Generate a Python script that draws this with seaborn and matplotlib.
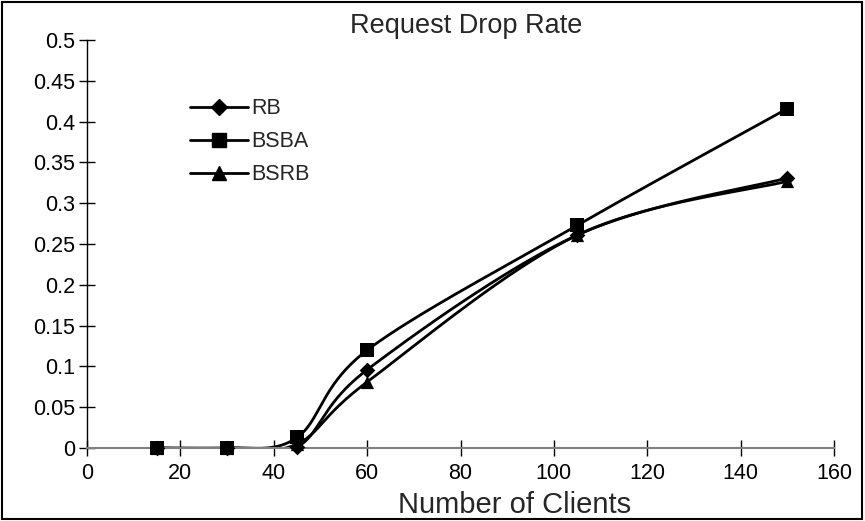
import numpy as np
import pandas as pd
import matplotlib
matplotlib.use("Agg")
import matplotlib.pyplot as plt
import seaborn as sns
from matplotlib.patches import Rectangle
from matplotlib.lines import Line2D

clients = [15, 30, 45, 60, 105, 150]
rb = [0.0, 0.0, 0.001, 0.096, 0.261, 0.331]
bsba = [0.0, 0.0, 0.013, 0.120, 0.273, 0.416]
bsrb = [0.0, 0.0, 0.005, 0.081, 0.261, 0.327]
series_names = ["RB", "BSBA", "BSRB"]
y_tick_labels = ["0", "0.05", "0.1", "0.15", "0.2", "0.25", "0.3", "0.35", "0.4", "0.45", "0.5"]
markers = {"RB": "D", "BSBA": "s", "BSRB": "^"}
msizes = {"RB": 8, "BSBA": 10, "BSRB": 9.5}

sns.set_theme(style="white")
plt.rcParams['font.family'] = ['Liberation Sans', 'DejaVu Sans']

df = pd.DataFrame({"Clients": clients * 3,
                   "Rate": rb + bsba + bsrb,
                   "Series": sum([[s] * len(clients) for s in series_names], [])})


def smooth(x, y, n=40):
    x = np.asarray(x, float); y = np.asarray(y, float)
    P = np.column_stack([x, y])
    out = []
    for i in range(len(P) - 1):
        p0 = P[i - 1] if i > 0 else P[i]
        p1 = P[i]; p2 = P[i + 1]
        p3 = P[i + 2] if i + 2 < len(P) else P[i + 1]
        c1 = p1 + (p2 - p0) / 6.0
        c2 = p2 - (p3 - p1) / 6.0
        t = np.linspace(0, 1, n)[:, None]
        seg = (1 - t) ** 3 * p1 + 3 * (1 - t) ** 2 * t * c1 + 3 * (1 - t) * t ** 2 * c2 + t ** 3 * p2
        out.append(seg if i == 0 else seg[1:])
    s = np.vstack(out)
    return s[:, 0], s[:, 1]


fig = plt.figure(figsize=(8.65, 5.21), dpi=100)
ax = fig.add_axes([0.1006, 0.140, 0.8636, 0.783])

for name in series_names:
    sub = df[df.Series == name]
    sx, sy = smooth(sub.Clients, sub.Rate)
    sns.lineplot(x=sx, y=sy, ax=ax, color="black", lw=2, sort=False, estimator=None)
    sns.scatterplot(data=sub, x="Clients", y="Rate", ax=ax, color="black",
                    marker=markers[name], s=msizes[name] ** 2, edgecolor="black",
                    linewidth=0, zorder=5, clip_on=False)

ax.set_xlim(0, 160)
ax.set_ylim(0, 0.5)
ax.set_xticks(np.arange(0, 161, 20))
ax.set_yticks(np.arange(0, 0.501, 0.05))
ax.set_yticklabels(y_tick_labels)
ax.tick_params(bottom=True, left=True, direction="inout", length=11, width=1,
               colors="black", labelsize=15.5)
ax.tick_params(axis="x", pad=5)
ax.tick_params(axis="y", pad=3)
for sp in ["top", "right"]:
    ax.spines[sp].set_visible(False)
ax.spines["left"].set_color("black")
ax.spines["left"].set_linewidth(1)
ax.spines["bottom"].set_color("#808080")
ax.spines["bottom"].set_linewidth(1.5)
ax.set_xlabel("Number of Clients", fontsize=21)
ax.xaxis.set_label_coords(0.572, -0.105)
ax.set_ylabel("")
ax.set_title("Request Drop Rate", fontsize=19.5, pad=5, x=0.508)

handles = [Line2D([0], [0], color="black", lw=2, marker=markers[n], markersize=msizes[n])
           for n in series_names]
ax.legend(handles, series_names, loc="upper left", bbox_to_anchor=(0.138, 0.857),
          frameon=False, fontsize=15.5, handlelength=2.7, handletextpad=0.12,
          labelspacing=0.55, borderaxespad=0, borderpad=0)

fig.patches.append(Rectangle((0.002, 0.004), 0.994, 0.992, transform=fig.transFigure,
                             fill=False, edgecolor="black", lw=1.5))
fig.savefig("out.png", dpi=100)
